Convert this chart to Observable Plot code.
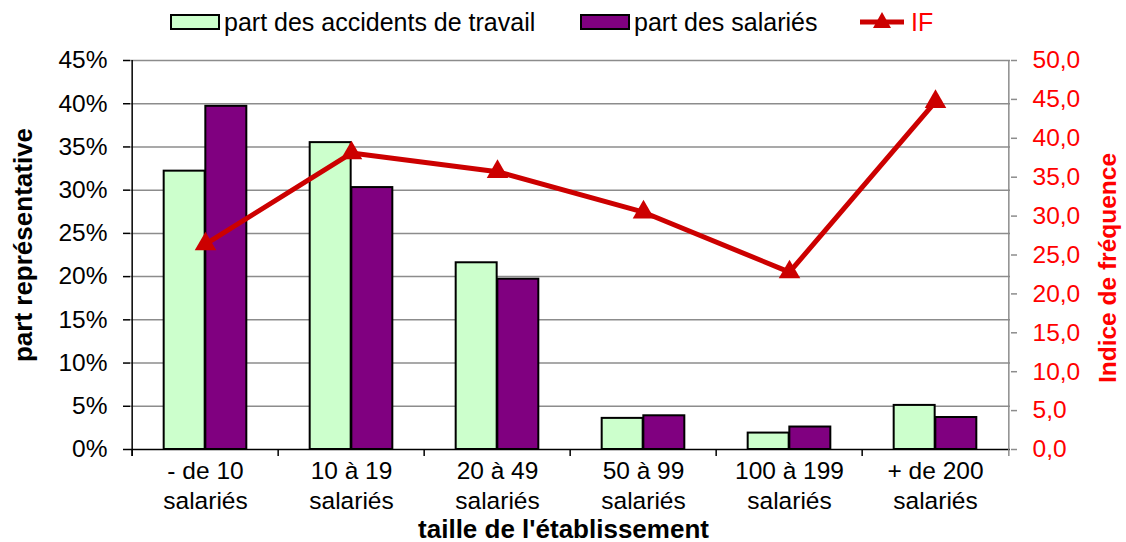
<!DOCTYPE html>
<html>
<head>
<meta charset="utf-8">
<script src="https://cdn.jsdelivr.net/npm/d3@7"></script>
<script src="https://cdn.jsdelivr.net/npm/@observablehq/plot@0.6"></script>
<style>
  html, body { margin: 0; padding: 0; background: #fff; }
  body { width: 1126px; height: 542px; overflow: hidden; font-family: "Liberation Sans", Arial, sans-serif; }
  #legend { position: relative; height: 44px; width: 1126px; font-size: 25px; color: #000; }
  #legend .sw { position: absolute; top: 14px; height: 16px; border: 2px solid #000; box-sizing: border-box; }
  #legend .lbl { position: absolute; top: 8px; line-height: 28px; white-space: nowrap; }
</style>
</head>
<body>
<div id="legend"></div>
<div id="chart"></div>
<script>
// ---- data ----
const categories = ["- de 10\nsalariés", "10 à 19\nsalariés", "20 à 49\nsalariés", "50 à 99\nsalariés", "100 à 199\nsalariés", "+ de 200\nsalariés"];
const partAccidents = [0.322, 0.355, 0.216, 0.036, 0.019, 0.051];
const partSalaries = [0.397, 0.303, 0.197, 0.039, 0.026, 0.037];
const indiceFrequence = [26.4, 38.1, 35.7, 30.5, 22.8, 44.7];
const leftTicks = [0, 0.05, 0.10, 0.15, 0.20, 0.25, 0.30, 0.35, 0.40, 0.45];
const rightTicks = [0, 5, 10, 15, 20, 25, 30, 35, 40, 45, 50];
const seriesNames = ["part des accidents de travail", "part des salariés", "IF"];

const rows = categories.map((c, i) => ({cat: c, acc: partAccidents[i], sal: partSalaries[i], IF: indiceFrequence[i]}));

const GREEN = "#ccffcc", PURPLE = "#800080", LINE = "#cc0000", RED = "#ff0000", GRID = "#8c8c8c";
const LEFTMAX = 0.45, RIGHTMAX = 50, k = LEFTMAX / RIGHTMAX;

// legend
const legend = document.getElementById("legend");
legend.innerHTML = `
  <div class="sw" style="left:170px;width:50px;background:${GREEN}"></div>
  <div class="lbl" style="left:224px">${seriesNames[0]}</div>
  <div class="sw" style="left:580px;width:50px;background:${PURPLE}"></div>
  <div class="lbl" style="left:634px">${seriesNames[1]}</div>
  <svg style="position:absolute;left:858px;top:8px" width="48" height="26">
    <line x1="2" y1="14" x2="46" y2="14" stroke="${LINE}" stroke-width="5"/>
    <path d="M24,4 L33,20 L15,20 Z" fill="${LINE}"/>
  </svg>
  <div class="lbl" style="left:911px;color:${RED}">${seriesNames[2]}</div>`;

const W = 1126, H = 498, mL = 130, mR = 116, mT = 16, mB = 93;
const step = (W - mL - mR) / categories.length;
const barW = step * 0.284;
const outerPad = (step - 2 * barW) / 2;

const chart = Plot.plot({
  width: W, height: H,
  marginLeft: mL, marginRight: mR, marginTop: mT, marginBottom: mB,
  style: {fontFamily: "Liberation Sans, Arial, sans-serif", fontSize: "24.5px", background: "#fff", color: "#000", overflow: "visible"},
  x: {domain: categories, type: "band", padding: 0, axis: null},
  y: {domain: [0, LEFTMAX], axis: null},
  marks: [
    Plot.ruleY(leftTicks.slice(1), {stroke: GRID, strokeWidth: 1.5}),
    Plot.barY(rows, {x: "cat", y: "acc", fill: GREEN, stroke: "#000", strokeWidth: 2, insetLeft: outerPad, insetRight: outerPad + barW}),
    Plot.barY(rows, {x: "cat", y: "sal", fill: PURPLE, stroke: "#000", strokeWidth: 2, insetLeft: outerPad + barW, insetRight: outerPad}),
    // bottom axis line
    Plot.ruleY([0], {stroke: "#000", strokeWidth: 1.5}),
    // category dividers
    Plot.ruleX(categories, {x: d => d, y1: 0, y2: -0.008, dx: -step / 2, stroke: "#000", strokeWidth: 1.5}),
    // left axis line
    Plot.ruleX([categories[0]], {x: d => d, y1: -0.008, y2: LEFTMAX, dx: -step / 2, stroke: "#000", strokeWidth: 1.5}),
    // right axis line
    Plot.ruleX([categories[categories.length - 1]], {x: d => d, y1: -0.008, y2: LEFTMAX, dx: step / 2, stroke: GRID, strokeWidth: 1.5}),
    Plot.axisY({ticks: leftTicks, tickFormat: d => Math.round(d * 100) + "%", tickSize: 7, tickPadding: 16, strokeWidth: 1.5, label: null}),
    Plot.axisY({anchor: "right", ticks: rightTicks.map(v => v * k), tickFormat: d => (d / k).toFixed(1).replace(".", ","), tickSize: 6, tickPadding: 16, color: RED, stroke: GRID, strokeWidth: 1.5, label: null}),
    Plot.axisX({tickSize: 0, tickPadding: 7, lineHeight: 1.265, label: null}),
    Plot.line(rows, {x: "cat", y: d => d.IF * k, stroke: LINE, strokeWidth: 5}),
    Plot.dot(rows, {x: "cat", y: d => d.IF * k, symbol: "triangle", r: 8, fill: LINE, stroke: "none"}),
    Plot.text(["part représentative"], {frameAnchor: "left", textAnchor: "middle", lineAnchor: "middle", dx: -107, dy: -10, rotate: -90, fontWeight: "bold", fontSize: 26}),
    Plot.text(["Indice de fréquence"], {frameAnchor: "right", textAnchor: "middle", lineAnchor: "middle", dx: 98, dy: 13, rotate: -90, fontWeight: "bold", fontSize: 24.5, fill: RED}),
    Plot.text(["taille de l'établissement"], {frameAnchor: "bottom", textAnchor: "middle", lineAnchor: "middle", dx: -7, dy: 80, fontWeight: "bold", fontSize: 26})
  ]
});
document.getElementById("chart").appendChild(chart);
</script>
</body>
</html>
